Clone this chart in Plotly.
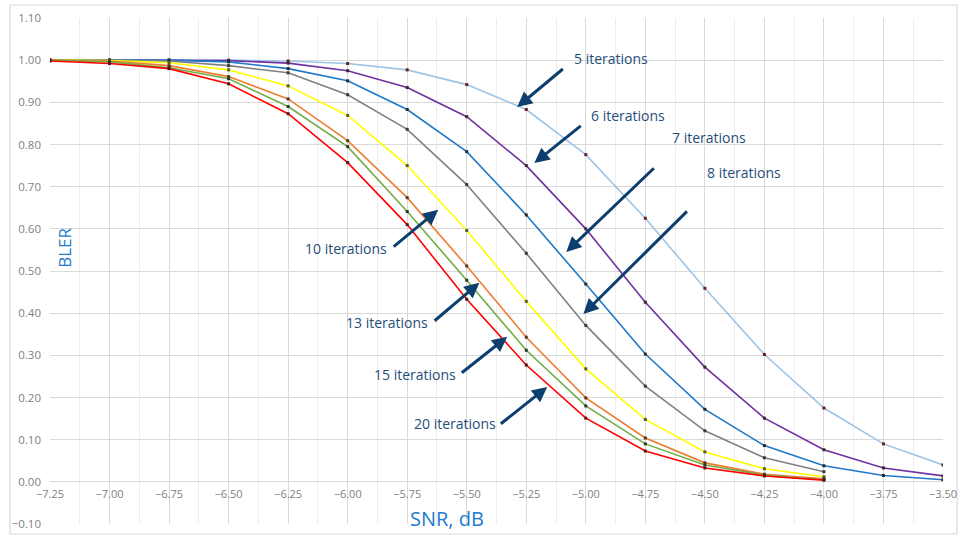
import plotly.graph_objects as go

snr = [-7.25, -7.00, -6.75, -6.50, -6.25, -6.00, -5.75, -5.50, -5.25, -5.00,
       -4.75, -4.50, -4.25, -4.00, -3.75, -3.50]

it5 = [1.000, 1.000, 1.000, 1.000, 0.998, 0.992, 0.977, 0.942, 0.883, 0.776, 0.625, 0.459, 0.302, 0.175, 0.090, 0.040]
it6 = [1.000, 1.000, 1.000, 0.999, 0.993, 0.975, 0.935, 0.866, 0.750, 0.600, 0.426, 0.272, 0.151, 0.076, 0.033, 0.014]
it7 = [1.000, 1.000, 1.000, 0.996, 0.980, 0.951, 0.883, 0.783, 0.633, 0.469, 0.303, 0.172, 0.086, 0.038, 0.015, 0.005]
it8 = [1.000, 1.000, 0.998, 0.987, 0.970, 0.918, 0.836, 0.705, 0.542, 0.371, 0.227, 0.121, 0.057, 0.024]
it10 = [1.000, 0.999, 0.994, 0.977, 0.939, 0.869, 0.750, 0.596, 0.428, 0.268, 0.148, 0.071, 0.031, 0.012]
it13 = [1.000, 0.998, 0.987, 0.961, 0.908, 0.809, 0.674, 0.512, 0.343, 0.199, 0.104, 0.045, 0.018, 0.007]
it15 = [1.000, 0.996, 0.982, 0.956, 0.890, 0.795, 0.641, 0.478, 0.312, 0.180, 0.090, 0.040, 0.016, 0.005]
it20 = [0.998, 0.992, 0.980, 0.944, 0.873, 0.757, 0.610, 0.433, 0.277, 0.151, 0.073, 0.033, 0.014, 0.004]

series = [
    ("5 iterations", it5, "#9DC3E6", "#6b1f1f"),
    ("6 iterations", it6, "#7030A0", "#3a2a2a"),
    ("7 iterations", it7, "#1F78C8", "#2a2a2a"),
    ("8 iterations", it8, "#808080", "#3a3a3a"),
    ("10 iterations", it10, "#FFFF00", "#5a5a2a"),
    ("13 iterations", it13, "#ED7D31", "#4a3a2a"),
    ("15 iterations", it15, "#70AD47", "#2a3a2a"),
    ("20 iterations", it20, "#FF0000", "#4a1a1a"),
]

# label text centre, arrow tail, arrow tip (data coordinates)
labels = [
    ("5 iterations", (-4.893, 1.005), (-5.090, 0.982), (-5.288, 0.889)),
    ("6 iterations", (-4.821, 0.868), (-5.015, 0.847), (-5.216, 0.756)),
    ("7 iterations", (-4.481, 0.816), (-4.708, 0.747), (-5.082, 0.545)),
    ("8 iterations", (-4.334, 0.733), (-4.569, 0.645), (-5.010, 0.398)),
    ("10 iterations", (-6.006, 0.553), (-5.813, 0.555), (-5.620, 0.645)),
    ("13 iterations", (-5.834, 0.377), (-5.641, 0.379), (-5.447, 0.472)),
    ("15 iterations", (-5.716, 0.254), (-5.527, 0.256), (-5.330, 0.344)),
    ("20 iterations", (-5.548, 0.138), (-5.363, 0.135), (-5.162, 0.225)),
]

fig = go.Figure()
for name, vals, col, mcol in series:
    fig.add_trace(go.Scatter(
        x=snr[:len(vals)], y=vals, name=name, mode="lines+markers",
        line=dict(color=col, width=1.6),
        marker=dict(symbol="square", size=3, color=mcol),
        showlegend=False,
    ))

annotations = []
txt_col = "#1F4E79"
arr_col = "#0D3F6E"
for text, (tx, ty), (ax, ay), (hx, hy) in labels:
    annotations.append(dict(x=tx, y=ty, xref="x", yref="y", text=text, showarrow=False,
                            font=dict(family="Open Sans", size=14, color=txt_col)))
    annotations.append(dict(x=hx, y=hy, ax=ax, ay=ay, xref="x", yref="y", axref="x", ayref="y",
                            text="", showarrow=True, arrowhead=2, arrowsize=1,
                            arrowwidth=3, arrowcolor=arr_col, standoff=0, startstandoff=0))

annotations.append(dict(x=-7.187, y=0.555, xref="x", yref="y", text="BLER", textangle=-90,
                        showarrow=False, font=dict(family="Open Sans", size=17, color="#1B7BD0")))
annotations.append(dict(x=-5.582, y=-0.086, xref="x", yref="y", text="SNR, dB",
                        showarrow=False, font=dict(family="Open Sans", size=20, color="#1B7BD0")))

grid = "#D9D9D9"
fig.update_layout(
    width=958, height=536,
    margin=dict(l=50, r=15, t=18, b=12, autoexpand=False),
    paper_bgcolor="white", plot_bgcolor="white",
    annotations=annotations,
    shapes=[dict(type="rect", xref="paper", yref="paper", x0=-0.0448, x1=1.0157,
                 y0=-0.0198, y1=1.0257, line=dict(color=grid, width=1.2), layer="below")],
    xaxis=dict(range=[-7.25, -3.5], tick0=-7.25, dtick=0.25, tickformat=".2f",
               showgrid=True, gridcolor=grid, gridwidth=1.2,
               minor=dict(dtick=0.125, tick0=-7.25, showgrid=True, gridcolor="#EDEDED", gridwidth=1),
               zeroline=False, showline=False, automargin=False,
               anchor="free", position=0.1 / 1.2,
               tickfont=dict(family="Open Sans", size=11, color="#7F7F7F"),
               ticks="", ticklabelstandoff=4, ticklabeloverflow="allow"),
    yaxis=dict(range=[-0.1, 1.1], dtick=0.1, tick0=0, tickformat=".2f",
               showgrid=True, gridcolor=grid, gridwidth=1.2, automargin=False,
               zeroline=True, zerolinecolor=grid, zerolinewidth=1.2, showline=False,
               tickfont=dict(family="Open Sans", size=11.5, color="#7F7F7F"),
               ticks="", ticklabelstandoff=8),
)

fig.write_html("out.html", config={"displayModeBar": False},
               post_script="document.body.style.margin='0';document.body.style.overflow='hidden';")
